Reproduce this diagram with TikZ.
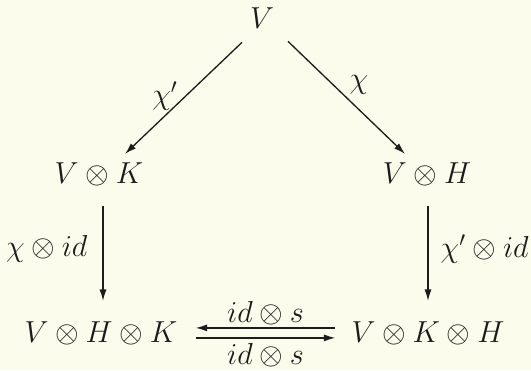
\documentclass[tikz,border=0pt]{standalone}
\usetikzlibrary{arrows.meta,calc}
\definecolor{paper}{RGB}{252,252,237}
\definecolor{ink}{RGB}{28,28,28}

\begin{document}
\begin{tikzpicture}[x=0.02cm,y=-0.02cm,
  obj/.style={inner sep=0.4cm, anchor=base, font=\fontsize{17.28}{21}\selectfont, text=ink},
  lbl/.style={inner sep=0pt, font=\fontsize{17.28}{21}\selectfont, text=ink},
  arr/.style={draw=ink, line width=0.75pt, -{Latex[length=6.5pt,width=4pt]}}]
  \fill[paper] (0,0) rectangle (531,370);
  \useasboundingbox (0,0) rectangle (531,370);
  \node[obj] (V) at (262,28) {$V$};
  \node[obj] (VK) at (99,183) {$V\otimes K$};
  \node[obj] (VH) at (427,183) {$V\otimes H$};
  \node[obj] (VHK) at (101,342) {$V\otimes H\otimes K$};
  \node[obj] (VKH) at (428,342) {$V\otimes K\otimes H$};
  \draw[arr] ($(V.south)+(-20,-6)$) -- node[lbl, xshift=-0.37cm, yshift=0.05cm] {$\chi'$} ($(VK.north)+(26,12)$);
  \draw[arr] ($(V.south)+(26,-7)$) -- node[lbl, xshift=0.25cm, yshift=0.26cm] {$\chi$} ($(VH.north)+(-22,12)$);
  \draw[arr] ($(VK.south)+(4,0)$) -- node[lbl, pos=0.45, left=0.3cm] {$\chi\otimes id$} ($(VHK.north)+(2,0)$);
  \draw[arr] ($(VH.south)+(1,0)$) -- node[lbl, pos=0.45, right=0.24cm] {$\chi'\otimes id$} (VKH.north);
  \draw[arr] ($(VKH.west)+(4,-5)$) -- node[lbl, above=0.05cm] {$id\otimes s$} ($(VHK.east)+(-2,-5)$);
  \draw[arr] ($(VHK.east)+(-2,5)$) -- node[lbl, below=0.1cm] {$id\otimes s$} ($(VKH.west)+(4,5)$);
\end{tikzpicture}
\end{document}
